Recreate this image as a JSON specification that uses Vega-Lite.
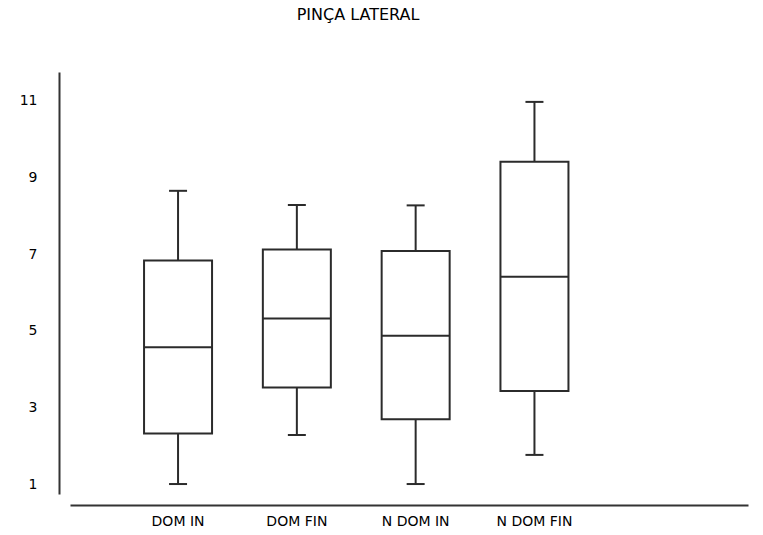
{
  "$schema": "https://vega.github.io/schema/vega-lite/v6.json",
  "autosize": {"type": "none"},
  "padding": {"left": 70, "top": 72, "right": 15, "bottom": 41},
  "width": 678,
  "height": 422,
  "background": "white",
  "config": {
    "view": {"stroke": null},
    "font": "DejaVu Sans"
  },
  "title": {
    "text": "PINÇA LATERAL",
    "fontSize": 16,
    "fontWeight": "normal",
    "color": "#000000",
    "anchor": "middle",
    "frame": "group",
    "dx": -51,
    "offset": 49
  },
  "data": {
    "values": [
      {"group": "DOM IN", "min": 1.0, "q1": 2.32, "median": 4.57, "q3": 6.83, "max": 8.65},
      {"group": "DOM FIN", "min": 2.28, "q1": 3.52, "median": 5.32, "q3": 7.12, "max": 8.28},
      {"group": "N DOM IN", "min": 1.0, "q1": 2.69, "median": 4.87, "q3": 7.08, "max": 8.27},
      {"group": "N DOM FIN", "min": 1.76, "q1": 3.43, "median": 6.41, "q3": 9.41, "max": 10.97}
    ]
  },
  "encoding": {
    "x": {
      "field": "group",
      "type": "nominal",
      "sort": ["DOM IN", "DOM FIN", "N DOM IN", "N DOM FIN"],
      "scale": {"type": "band", "paddingInner": 0.293, "paddingOuter": 1, "align": 0.278},
      "axis": {
        "title": null,
        "ticks": false,
        "offset": 11,
        "domainColor": "#333333",
        "domainWidth": 2,
        "labelAngle": 0,
        "labelFontSize": 14,
        "labelColor": "#000000",
        "labelPadding": 9,
        "grid": false
      }
    }
  },
  "layer": [
    {
      "mark": {"type": "rule", "color": "#2b2b2b", "strokeWidth": 2, "opacity": 1},
      "encoding": {
        "y": {
          "field": "min",
          "type": "quantitative",
          "scale": {"domain": [0.74, 11.75], "nice": false, "zero": false},
          "axis": {
            "title": null,
            "values": [1, 3, 5, 7, 9, 11],
            "ticks": false,
            "grid": false,
            "offset": 11,
            "domainColor": "#333333",
            "domainWidth": 2,
            "labelFontSize": 14,
            "labelColor": "#000000",
            "labelPadding": 22
          }
        },
        "y2": {"field": "max"}
      }
    },
    {
      "mark": {"type": "bar", "size": 68, "fill": "white", "stroke": "#2b2b2b", "strokeWidth": 2, "opacity": 1},
      "encoding": {
        "y": {"field": "q1", "type": "quantitative"},
        "y2": {"field": "q3"}
      }
    },
    {
      "mark": {"type": "tick", "size": 68, "thickness": 2, "color": "#2b2b2b", "opacity": 1},
      "encoding": {"y": {"field": "median", "type": "quantitative"}}
    },
    {
      "mark": {"type": "tick", "size": 18, "thickness": 2, "color": "#2b2b2b", "opacity": 1},
      "encoding": {"y": {"field": "min", "type": "quantitative"}}
    },
    {
      "mark": {"type": "tick", "size": 18, "thickness": 2, "color": "#2b2b2b", "opacity": 1},
      "encoding": {"y": {"field": "max", "type": "quantitative"}}
    }
  ]
}
